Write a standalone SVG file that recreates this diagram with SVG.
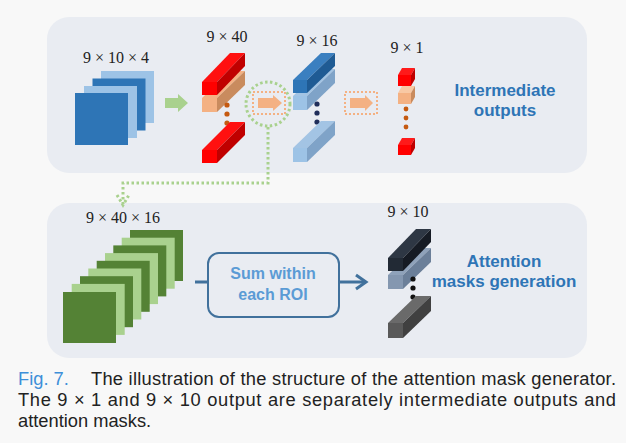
<svg xmlns="http://www.w3.org/2000/svg" width="626" height="443" viewBox="0 0 626 443">
<style>
.dim{font-family:"Liberation Serif",serif;font-size:16px;fill:#222;text-anchor:middle}
.lbl{font-family:"Liberation Sans",Arial,sans-serif;font-size:17px;font-weight:bold;fill:#2e75b6;text-anchor:middle}
.sum{font-family:"Liberation Sans",Arial,sans-serif;font-size:16px;font-weight:bold;fill:#5b9bd5;text-anchor:middle}
.cap{font-family:"Liberation Sans",Arial,sans-serif;font-size:18.3px;fill:#222}
.panel{fill:#e9ecf2}
.gdot{fill:none;stroke:#a9d18e;stroke-width:3;stroke-dasharray:2.5 2.5}
.odot{fill:none;stroke:#f4b183;stroke-width:2;stroke-dasharray:2 2}
.conn{fill:none;stroke:#41719c;stroke-width:3}
</style>
<rect width="626" height="443" fill="#f8f8f8"/>
<rect class="panel" x="47" y="17" width="540" height="156" rx="22"/>
<rect class="panel" x="47" y="203" width="540" height="155" rx="22"/>

<g id="input-stack">
<text class="dim" x="116" y="63">9 × 10 × 4</text>
<rect x="101" y="71" width="53" height="52" fill="#9dc3e6"/>
<rect x="92.5" y="78.5" width="53" height="52" fill="#2e75b6"/>
<rect x="84" y="86" width="53" height="52" fill="#9dc3e6"/>
<rect x="75" y="93" width="53" height="52" fill="#2e75b6"/>
</g>

<g id="green-arrow">
<polygon points="165,98 178,98 178,94 188,103 178,112 178,108 165,108" fill="#a9d18e"/>
</g>

<g id="bars-9x40">
<text class="dim" x="227" y="42">9 × 40</text>
<polygon points="202,98 217,98 245,71 230,71" fill="#f4b183"/>
<polygon points="217,98 217,112 245,85 245,71" fill="#c98b5e"/>
<rect x="202" y="98" width="15" height="14" fill="#f4b183"/>
<polygon points="202,82 217,82 245,53 230,53" fill="#ff1010"/>
<polygon points="217,82 217,95 245,66 245,53" fill="#c00000"/>
<rect x="202" y="82" width="15" height="13" fill="#ff0000"/>
<circle cx="227" cy="105" r="2.6" fill="#c55a11"/>
<circle cx="227" cy="114" r="2.6" fill="#c55a11"/>
<circle cx="227" cy="123" r="2.6" fill="#c55a11"/>
<polygon points="202,150 217,150 245,122 230,122" fill="#ff1010"/>
<polygon points="217,150 217,163 245,135 245,122" fill="#c00000"/>
<rect x="202" y="150" width="15" height="13" fill="#ff0000"/>
</g>

<g id="focus-circle">
<circle class="gdot" cx="268" cy="104" r="22"/>
<rect class="odot" x="253" y="92" width="32" height="22"/>
<polygon points="258,98 273,98 273,95 282,103 273,111 273,108 258,108" fill="#f4b183"/>
</g>

<g id="bars-9x16">
<text class="dim" x="317" y="46">9 × 16</text>
<polygon points="293,96 307,96 335,69 321,69" fill="#a3c4e4"/>
<polygon points="307,96 307,110 335,83 335,69" fill="#7fa3c8"/>
<rect x="293" y="96" width="14" height="14" fill="#9dc3e6"/>
<polygon points="293,80 307,80 335,53 321,53" fill="#3a7fc0"/>
<polygon points="307,80 307,93 335,66 335,53" fill="#1f5b94"/>
<rect x="293" y="80" width="14" height="13" fill="#2e75b6"/>
<circle cx="317" cy="104" r="2.6" fill="#1f2d5a"/>
<circle cx="317" cy="113" r="2.6" fill="#1f2d5a"/>
<circle cx="317" cy="122" r="2.6" fill="#1f2d5a"/>
<polygon points="293,148 307,148 335,121 321,121" fill="#a3c4e4"/>
<polygon points="307,148 307,162 335,135 335,121" fill="#7fa3c8"/>
<rect x="293" y="148" width="14" height="14" fill="#9dc3e6"/>
</g>

<g id="orange-arrow-2">
<rect class="odot" x="345" y="92" width="32" height="22"/>
<polygon points="350,98 365,98 365,95 373,103 365,111 365,108 350,108" fill="#f4b183"/>
</g>

<g id="cubes-9x1">
<text class="dim" x="407" y="53">9 × 1</text>
<polygon points="398,75 411,75 415,68 402,68" fill="#ff1a1a"/>
<polygon points="411,75 411,86 415,79 415,68" fill="#c00000"/>
<rect x="398" y="75" width="13" height="11" fill="#ff0000"/>
<polygon points="398,93 411,93 415,86 402,86" fill="#f8c8a4"/>
<polygon points="411,93 411,104 415,97 415,86" fill="#c98b5e"/>
<rect x="398" y="93" width="13" height="11" fill="#f4b183"/>
<circle cx="406" cy="109" r="2.4" fill="#c55a11"/>
<circle cx="406" cy="118" r="2.4" fill="#c55a11"/>
<circle cx="406" cy="127" r="2.4" fill="#c55a11"/>
<polygon points="398,145 411,145 415,138 402,138" fill="#ff1a1a"/>
<polygon points="411,145 411,155 415,148 415,138" fill="#c00000"/>
<rect x="398" y="145" width="13" height="10" fill="#ff0000"/>
</g>

<g id="label-intermediate">
<text class="lbl" x="505" y="96">Intermediate</text>
<text class="lbl" x="505" y="116">outputs</text>
</g>

<g id="feature-stack">
<text class="dim" x="123" y="223">9 × 40 × 16</text>
<rect x="130" y="230" width="53" height="51" fill="#548235"/>
<rect x="121.7" y="237.7" width="53" height="51" fill="#a9d18e"/>
<rect x="113.3" y="245.4" width="53" height="51" fill="#548235"/>
<rect x="105" y="253.1" width="53" height="51" fill="#a9d18e"/>
<rect x="96.7" y="260.8" width="53" height="51" fill="#548235"/>
<rect x="88.3" y="268.5" width="53" height="51" fill="#a9d18e"/>
<rect x="80" y="276.2" width="53" height="51" fill="#548235"/>
<rect x="71.7" y="283.9" width="53" height="51" fill="#a9d18e"/>
<rect x="63" y="292" width="53" height="51" fill="#548235"/>
</g>

<g id="sum-box">
<rect x="208" y="253" width="131" height="64" rx="11" fill="none" stroke="#41719c" stroke-width="2"/>
<text class="sum" x="273" y="279">Sum within</text>
<text class="sum" x="273" y="300">each ROI</text>
</g>

<g id="bars-9x10">
<text class="dim" x="408" y="217">9 × 10</text>
<polygon points="388,275 403,275 431,248 416,248" fill="#8fa2ba"/>
<polygon points="403,275 403,289 431,262 431,248" fill="#6b7f99"/>
<rect x="388" y="275" width="15" height="14" fill="#8497b0"/>
<polygon points="388,258 403,258 431,229 416,229" fill="#2e3744"/>
<polygon points="403,258 403,271 431,242 431,229" fill="#161b24"/>
<rect x="388" y="258" width="15" height="13" fill="#222a35"/>
<circle cx="413" cy="279" r="2.6" fill="#111"/>
<circle cx="413" cy="288" r="2.6" fill="#111"/>
<circle cx="413" cy="297" r="2.6" fill="#111"/>
<polygon points="388,323 403,323 431,296 416,296" fill="#6a6a6a"/>
<polygon points="403,323 403,338 431,311 431,296" fill="#404040"/>
<rect x="388" y="323" width="15" height="15" fill="#595959"/>
</g>

<g id="label-attention">
<text class="lbl" x="504" y="267">Attention</text>
<text class="lbl" x="504" y="287">masks generation</text>
</g>

<g id="connectors">
<path class="gdot" d="M268,127 V183 H123 V204"/>
<path class="gdot" d="M117,195 L123,205 L129,195"/>
<path class="conn" d="M195,282 H208"/>
<path class="conn" d="M339,282 H366"/>
<path class="conn" d="M356,275 L366,282 L356,289"/>
</g>

<g id="caption">
<text class="cap" x="18" y="385" fill="#3d8fd8" style="fill:#3d8fd8">Fig. 7.</text>
<text class="cap" x="91" y="385" textLength="525" lengthAdjust="spacing">The illustration of the structure of the attention mask generator.</text>
<text class="cap" x="18" y="406" textLength="598" lengthAdjust="spacing">The 9 × 1 and 9 × 10 output are separately intermediate outputs and</text>
<text class="cap" x="18" y="427">attention masks.</text>
</g>
</svg>
